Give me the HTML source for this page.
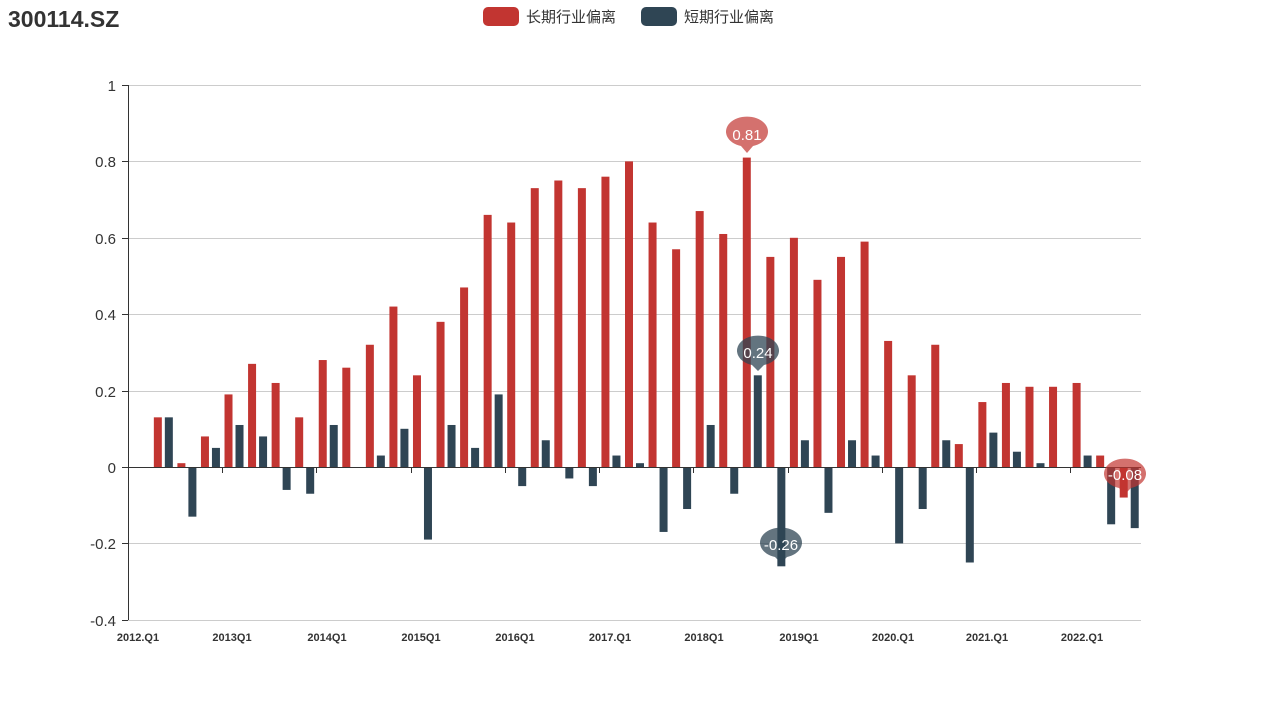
<!DOCTYPE html>
<html><head><meta charset="utf-8"><style>
body{margin:0;background:#fff;width:1269px;height:705px;overflow:hidden;font-family:"Liberation Sans","Noto Sans CJK SC",sans-serif}
</style></head><body>
<svg id="s" width="1269" height="705" xmlns="http://www.w3.org/2000/svg" font-family="Liberation Sans, Noto Sans CJK SC, sans-serif">
<text x="8" y="27" font-size="23" font-weight="bold" fill="#333">300114.SZ</text>
<rect x="483" y="7" width="36" height="19" rx="5" fill="#c23531"/>
<text x="526" y="22" font-size="15" fill="#333">长期行业偏离</text>
<rect x="641" y="7" width="36" height="19" rx="5" fill="#2f4554"/>
<text x="684" y="22" font-size="15" fill="#333">短期行业偏离</text>
<g stroke="#ccc" stroke-width="1">
<line x1="128" y1="85.5" x2="1141" y2="85.5"/>
<line x1="128" y1="161.5" x2="1141" y2="161.5"/>
<line x1="128" y1="238.5" x2="1141" y2="238.5"/>
<line x1="128" y1="314.5" x2="1141" y2="314.5"/>
<line x1="128" y1="391.5" x2="1141" y2="391.5"/>
<line x1="128" y1="543.5" x2="1141" y2="543.5"/>
<line x1="128" y1="620.5" x2="1141" y2="620.5"/>
</g>
<g font-size="15" fill="#333" text-anchor="end">
<text x="116" y="91">1</text><text x="116" y="167">0.8</text><text x="116" y="244">0.6</text>
<text x="116" y="320">0.4</text><text x="116" y="397">0.2</text><text x="116" y="473">0</text>
<text x="116" y="549">-0.2</text><text x="116" y="626">-0.4</text>
</g>
<g stroke="#333"><line x1="128.5" y1="85" x2="128.5" y2="620"/>
<line x1="122" y1="85.5" x2="128" y2="85.5"/><line x1="122" y1="161.5" x2="128" y2="161.5"/><line x1="122" y1="238.5" x2="128" y2="238.5"/><line x1="122" y1="314.5" x2="128" y2="314.5"/><line x1="122" y1="391.5" x2="128" y2="391.5"/><line x1="122" y1="467.5" x2="128" y2="467.5"/><line x1="122" y1="543.5" x2="128" y2="543.5"/><line x1="122" y1="620.5" x2="128" y2="620.5"/>
</g>
<g id="bars"></g>
<line x1="128" y1="467.5" x2="1141" y2="467.5" stroke="#333"/>
<g id="ticks" stroke="#333"></g>
<g font-size="11" font-weight="bold" fill="#333" text-anchor="middle">
<text x="138" y="641">2012.Q1</text><text x="232" y="641">2013Q1</text><text x="327" y="641">2014Q1</text>
<text x="421" y="641">2015Q1</text><text x="515" y="641">2016Q1</text><text x="610" y="641">2017.Q1</text>
<text x="704" y="641">2018Q1</text><text x="799" y="641">2019Q1</text><text x="893" y="641">2020.Q1</text>
<text x="987" y="641">2021.Q1</text><text x="1082" y="641">2022.Q1</text>
</g>
<path d="M747,153 L741,146 A21,15 0 1 1 753,146 Z" fill="#c23531" opacity="0.7"/>
<text x="747" y="140" font-size="15" fill="#fff" text-anchor="middle">0.81</text>
<path d="M758,371 L752,365 A21,15 0 1 1 764,365 Z" fill="#2f4554" opacity="0.75"/>
<text x="758" y="358" font-size="15" fill="#fff" text-anchor="middle">0.24</text>
<path d="M781,563 L775,557 A21,15 0 1 1 787,557 Z" fill="#2f4554" opacity="0.75"/>
<text x="781" y="550" font-size="15" fill="#fff" text-anchor="middle">-0.26</text>
<path d="M1125,494 L1119,488 A21,15 0 1 1 1131,488 Z" fill="#c23531" opacity="0.7"/>
<text x="1125" y="480" font-size="15" fill="#fff" text-anchor="middle">-0.08</text>
</svg>
<script>
var r=[null,.13,.01,.08,.19,.27,.22,.13,.28,.26,.32,.42,.24,.38,.47,.66,.64,.73,.75,.73,.76,.80,.64,.57,.67,.61,.81,.55,.60,.49,.55,.59,.33,.24,.32,.06,.17,.22,.21,.21,.22,.03,-.08];
var b=[null,.13,-.13,.05,.11,.08,-.06,-.07,.11,0,.03,.10,-.19,.11,.05,.19,-.05,.07,-.03,-.05,.03,.01,-.17,-.11,.11,-.07,.24,-.26,.07,-.12,.07,.03,-.20,-.11,.07,-.25,.09,.04,.01,0,.03,-.15,-.16];
var W=1013/43,z=467,k=382;var h='';
function bar(x,v,c){if(v==null||v==0)return;var y=z-v*k;h+='<rect x="'+(x-4)+'" y="'+Math.min(y,z)+'" width="8" height="'+Math.abs(v*k)+'" fill="'+c+'"/>';}
for(var i=0;i<43;i++){var c=128+W*(i+.5);bar(c-5.5,r[i],'#c23531');bar(c+5.5,b[i],'#2f4554');}
document.getElementById('bars').innerHTML=h;
var t='';for(var i=0;i<=43;i+=4){var x=Math.round(128+W*i)+.5;t+='<line x1="'+x+'" y1="467" x2="'+x+'" y2="473"/>';}
document.getElementById('ticks').innerHTML=t;
</script>
</body></html>
